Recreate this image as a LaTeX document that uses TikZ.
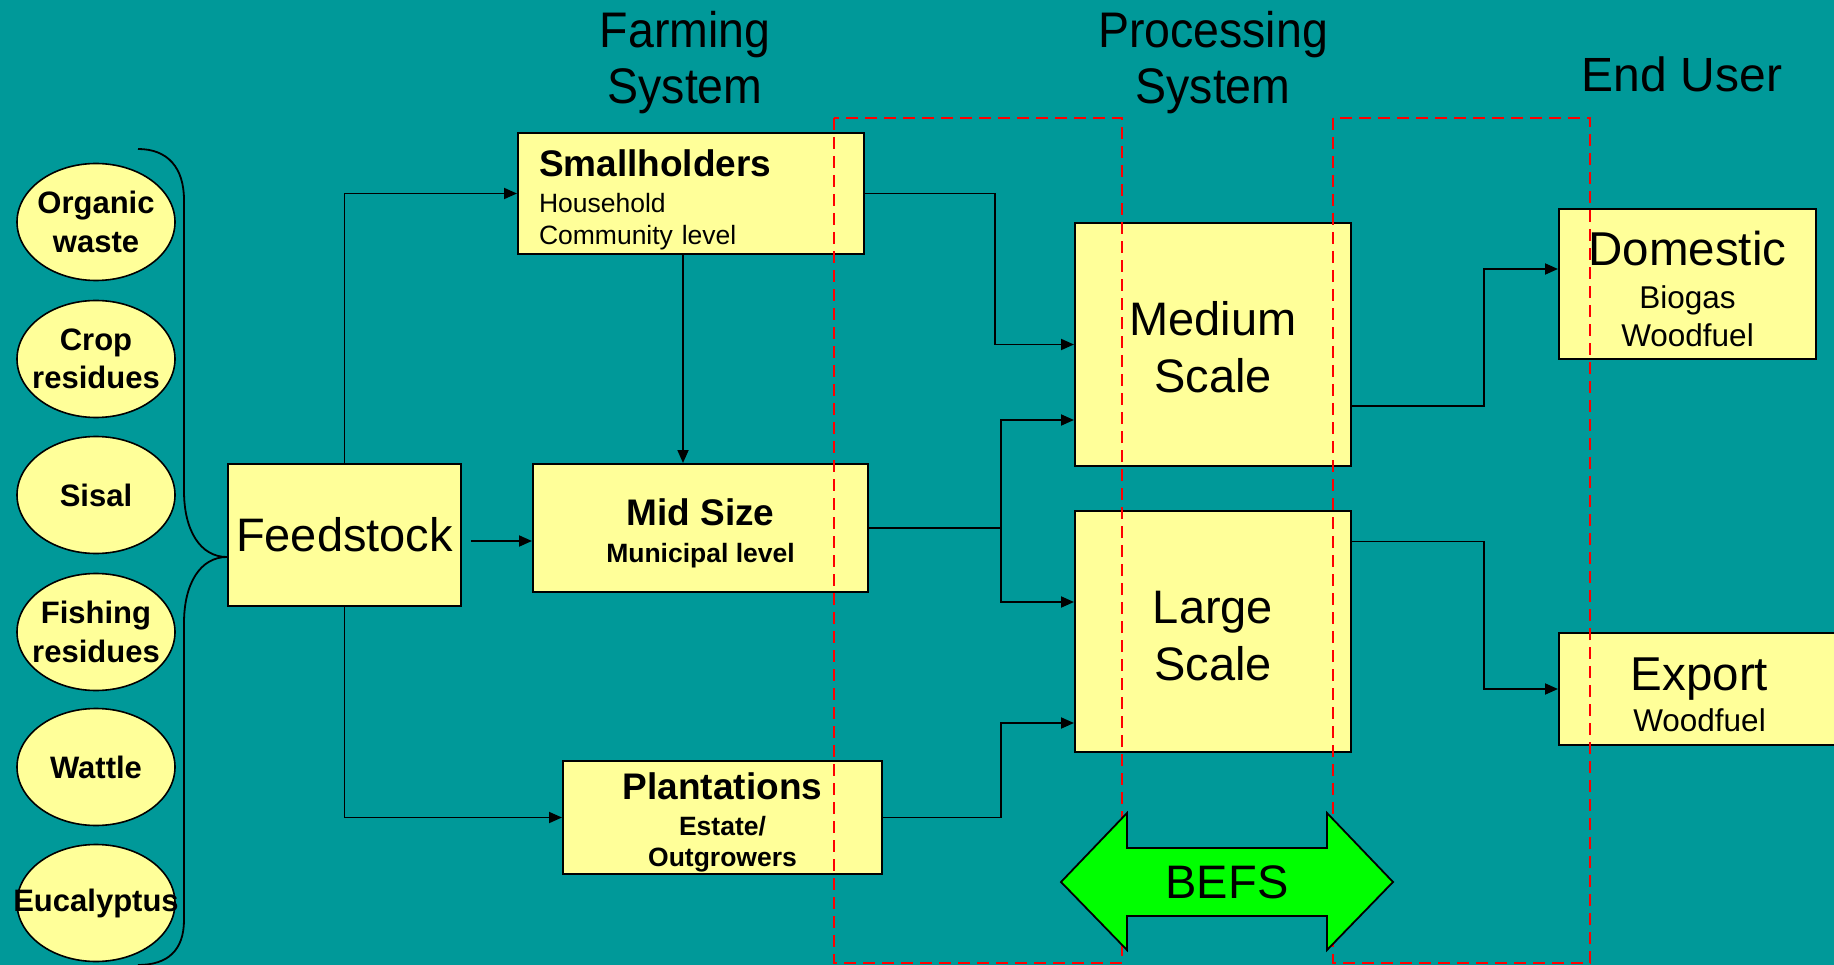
\documentclass[tikz,border=0pt]{standalone}
\usepackage{fontspec}
\setmainfont{Liberation Sans}
\newfontfamily\narrowsans[FakeStretch=0.93]{Liberation Sans}
\usetikzlibrary{calc,shapes.geometric,arrows.meta}
\definecolor{bgteal}{RGB}{0,153,153}
\definecolor{boxyellow}{RGB}{255,255,153}
\definecolor{befsgreen}{RGB}{0,255,0}
\newcommand{\toppad}[1]{\rule{0pt}{#1}}

\begin{document}
\begin{tikzpicture}[x=1pt, y=-1pt,
  box/.style={draw=black, line width=2pt, fill=boxyellow, inner sep=0pt, align=center},
  source/.style={ellipse, draw=black, line width=1.6pt, fill=boxyellow, minimum width=158pt, minimum height=117pt, inner xsep=-60pt, inner ysep=-20pt, align=center, font=\bfseries\fontsize{31}{38.6}\selectfont},
  link/.style={draw=black, line width=1.8pt, -{Triangle[length=13pt,width=11pt]}},
  plain link/.style={draw=black, line width=1.8pt},
  brace/.style={draw=black, line width=1.8pt},
  zone/.style={draw=red, line width=2pt, dash pattern=on 12pt off 7pt},
  heading/.style={font=\narrowsans\fontsize{50}{56}\selectfont, align=center}]
  \useasboundingbox (0,0) rectangle (1834,965);
  \clip (0,0) rectangle (1834,965);
  \fill[bgteal] (0,0) rectangle (1834,965);

  \node[heading] (farming) at (685,63) {Farming\\System};
  \node[heading] (processing) at (1213,63) {Processing\\System};
  \node[font=\fontsize{48}{48}\selectfont] (enduser) at (1682,74) {End User};

  \node[source] (organic) at (96,222) {Organic\\waste};
  \node[source] (crop) at (96,359) {Crop\\residues};
  \node[source] (sisal) at (96,495) {Sisal};
  \node[source] (fishing) at (96,632) {Fishing\\residues};
  \node[source] (wattle) at (96,767) {Wattle};
  \node[source] (eucalyptus) at (96,903) {Eucalyptus};

  \node[box, minimum width=233pt, minimum height=142pt, font=\fontsize{47}{56}\selectfont] (feed) at (344.5,535) {Feedstock};
  \node[box, text width=304pt, inner xsep=21pt, minimum height=121pt, align=left, font=\fontsize{26.5}{32}\selectfont] (small) at (691,193.5) {\toppad{39pt}{\bfseries\fontsize{37}{37}\selectfont Smallholders}\\[4pt]Household\\Community level};
  \node[box, minimum width=335pt, minimum height=128pt, font=\bfseries\fontsize{26.5}{37}\selectfont] (mid) at (700.5,528) {\toppad{37pt}{\fontsize{37}{37}\selectfont Mid Size}\\Municipal level};
  \node[box, minimum width=319pt, minimum height=113pt, font=\bfseries\fontsize{26.5}{31}\selectfont] (plant) at (722.5,817.5) {\toppad{37pt}{\fontsize{37}{37}\selectfont Plantations}\\[5pt]Estate/\\Outgrowers};
  \node[box, minimum width=276pt, minimum height=243pt, font=\fontsize{47}{57}\selectfont] (medium) at (1213,344.5) {\toppad{39pt}Medium\\Scale};
  \node[box, minimum width=276pt, minimum height=241pt, font=\fontsize{47}{57}\selectfont] (large) at (1213,631.5) {\toppad{41pt}Large\\Scale};
  \node[box, minimum width=257pt, minimum height=150pt, font=\fontsize{31.5}{37.5}\selectfont] (domestic) at (1687.5,284) {\toppad{44pt}{\fontsize{47.5}{47.5}\selectfont Domestic}\\[6pt]Biogas\\Woodfuel};
  \node[box, minimum width=281pt, minimum height=112pt, font=\fontsize{31.5}{37.5}\selectfont] (export) at (1699.5,689) {\toppad{44pt}{\fontsize{47.5}{47.5}\selectfont Export}\\[4pt]Woodfuel};

  \coordinate (bracetip) at ($(feed.west)+(0,22)$);
  \draw[brace] (138,149) .. controls (168,149) and (184,168) .. (184,200) -- (184,491) .. controls (184,530) and (200,557) .. (bracetip);
  \draw[brace] (bracetip) .. controls (200,557) and (184,584) .. (184,623) -- (184,920) .. controls (184,950) and (168,965) .. (138,965);

  \draw[link] (feed.north) |- (small.west);
  \draw[link] (feed.south) |- (plant.west);
  \coordinate (feedout) at ($(feed.east)+(9,6)$);
  \draw[link] (feedout) -- (feedout -| mid.west);
  \coordinate (smallout) at ($(small.south)+(-8,0)$);
  \draw[link] (smallout) -- (smallout |- mid.north);
  \draw[link] (small.east) -- ++(130,0) |- (medium.west);
  \draw[plain link] (mid.east) -- ++(132,0) coordinate (midjoin);
  \draw[link] (midjoin) |- ($(medium.west)+(0,75.5)$);
  \draw[link] (midjoin) |- ($(large.west)+(0,-29.5)$);
  \draw[link] (plant.east) -- ++(118,0) |- ($(large.west)+(0,91.5)$);
  \coordinate (medout) at ($(medium.east)+(0,61.5)$);
  \draw[link] (medout) -- ++(132,0) |- ($(domestic.west)+(0,-15)$);
  \coordinate (largeout) at ($(large.east)+(-2,-90)$);
  \draw[link] (largeout) -- ++(134,0) |- (export.west);

  \draw[zone] (834,118) rectangle (1122,963);
  \draw[zone] (1333,118) rectangle (1590,963);

  \filldraw[fill=befsgreen, draw=black, line width=1.8pt, line join=miter] (1061,882) -- (1127,813) -- (1127,848) -- (1327,848) -- (1327,813) -- (1393,882) -- (1327,950) -- (1327,916) -- (1127,916) -- (1127,950) -- cycle;
  \node[font=\fontsize{47}{47}\selectfont] (befs) at (1227,882) {BEFS};
\end{tikzpicture}
\end{document}
